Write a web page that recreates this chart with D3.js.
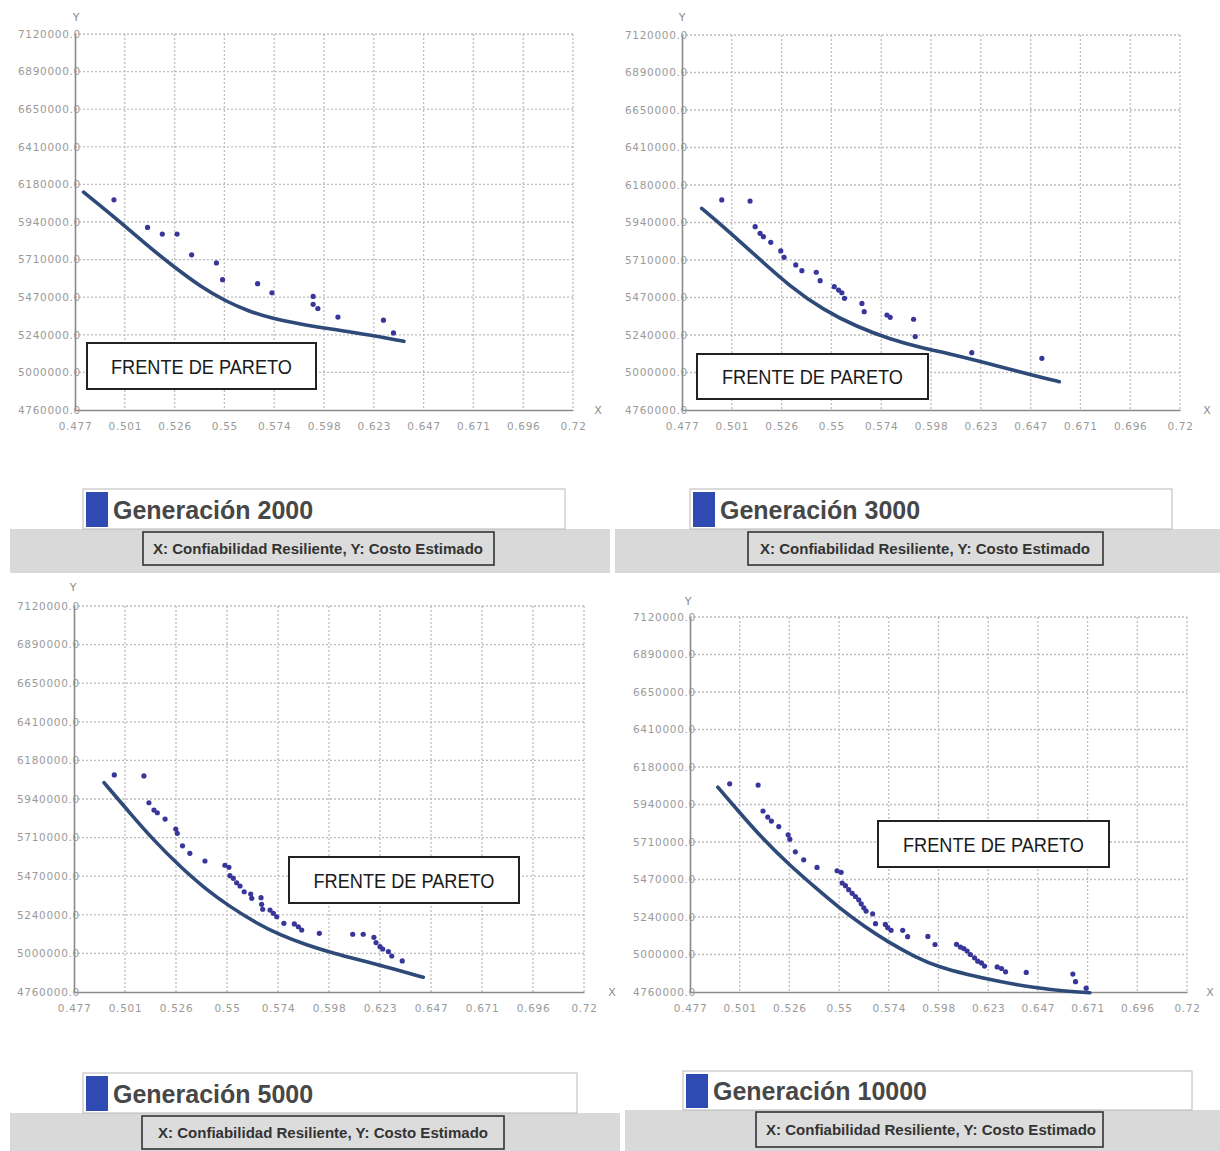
<!DOCTYPE html>
<html><head><meta charset="utf-8">
<script src="https://cdn.jsdelivr.net/npm/d3@7"></script>
<style>body{margin:0;background:#fff} svg{display:block}</style>
</head><body>
<svg id="chart" width="1220" height="1151"></svg>
<script>
// ---------- data ----------
const xTicks = [0.477,0.5013,0.5256,0.5499,0.5742,0.5985,0.6228,0.6471,0.6714,0.6957,0.72];
const xTickLabels = ["0.477","0.501","0.526","0.55","0.574","0.598","0.623","0.647","0.671","0.696","0.72"];
const yTicks = [4760000,4996000,5232000,5468000,5704000,5940000,6176000,6412000,6648000,6884000,7120000];
const yTickLabels = ["4760000.0","5000000.0","5240000.0","5470000.0","5710000.0","5940000.0","6180000.0","6410000.0","6650000.0","6890000.0","7120000.0"];
const generationTitles = ["Generación 2000","Generación 3000","Generación 5000","Generación 10000"];
const axisCaption = "X: Confiabilidad Resiliente, Y: Costo Estimado";
const frontLabel = "FRENTE DE PARETO";

const points2000 = [[0.4960,6079000],[0.5124,5906000],[0.5196,5864000],[0.5268,5864000],[0.5339,5734000],[0.5460,5683000],[0.5490,5578000],[0.5661,5553000],[0.5731,5496000],[0.5932,5473000],[0.5932,5423000],[0.5955,5397000],[0.6053,5343000],[0.6275,5324000],[0.6324,5244000]];
const curve2000 = [[0.4812,6127000],[0.4973,5959000],[0.5124,5791000],[0.5257,5654000],[0.5390,5528000],[0.5504,5444000],[0.5617,5380000],[0.5731,5334000],[0.5883,5296000],[0.6034,5265000],[0.6205,5233000],[0.6375,5191000]];

const points3000 = [[0.4964,6082000],[0.5102,6075000],[0.5127,5914000],[0.5151,5872000],[0.5167,5851000],[0.5203,5815000],[0.5252,5761000],[0.5268,5721000],[0.5325,5673000],[0.5355,5637000],[0.5425,5627000],[0.5444,5574000],[0.5513,5536000],[0.5534,5515000],[0.5550,5498000],[0.5563,5463000],[0.5648,5431000],[0.5659,5379000],[0.5770,5358000],[0.5786,5343000],[0.5900,5331000],[0.5908,5222000],[0.6184,5121000],[0.6526,5085000]];
const curve3000 = [[0.4866,6029000],[0.4972,5914000],[0.5135,5725000],[0.5298,5536000],[0.5460,5390000],[0.5623,5284000],[0.5786,5205000],[0.5949,5148000],[0.6079,5113000],[0.6317,5035000],[0.6507,4970000],[0.6611,4938000]];

const points5000 = [[0.4962,6087000],[0.5103,6081000],[0.5127,5917000],[0.5151,5872000],[0.5167,5856000],[0.5204,5817000],[0.5255,5756000],[0.5262,5730000],[0.5287,5654000],[0.5322,5608000],[0.5394,5561000],[0.5489,5535000],[0.5508,5522000],[0.5513,5471000],[0.5529,5455000],[0.5545,5428000],[0.5561,5408000],[0.5581,5373000],[0.5612,5359000],[0.5617,5333000],[0.5661,5337000],[0.5664,5296000],[0.5669,5266000],[0.5704,5261000],[0.5720,5241000],[0.5736,5220000],[0.5770,5180000],[0.5820,5176000],[0.5839,5159000],[0.5855,5139000],[0.5939,5119000],[0.6098,5113000],[0.6148,5113000],[0.6199,5094000],[0.6209,5062000],[0.6228,5037000],[0.6241,5023000],[0.6268,5007000],[0.6284,4980000],[0.6334,4950000]];
const curve5000 = [[0.4913,6040000],[0.5037,5853000],[0.5148,5690000],[0.5275,5527000],[0.5402,5384000],[0.5513,5282000],[0.5640,5180000],[0.5751,5109000],[0.5878,5047000],[0.6010,4995000],[0.6164,4946000],[0.6323,4891000],[0.6434,4850000]];

const points10000 = [[0.4964,6070000],[0.5103,6062000],[0.5127,5899000],[0.5150,5861000],[0.5168,5836000],[0.5204,5801000],[0.5250,5749000],[0.5258,5722000],[0.5285,5642000],[0.5326,5592000],[0.5391,5544000],[0.5489,5523000],[0.5509,5513000],[0.5514,5446000],[0.5530,5429000],[0.5546,5404000],[0.5563,5381000],[0.5579,5361000],[0.5595,5340000],[0.5607,5315000],[0.5620,5290000],[0.5631,5269000],[0.5663,5252000],[0.5677,5190000],[0.5725,5185000],[0.5737,5165000],[0.5753,5148000],[0.5810,5148000],[0.5834,5108000],[0.5933,5110000],[0.5968,5059000],[0.6073,5060000],[0.6092,5043000],[0.6109,5033000],[0.6125,5018000],[0.6141,4996000],[0.6161,4975000],[0.6177,4954000],[0.6195,4943000],[0.6210,4923000],[0.6272,4918000],[0.6293,4908000],[0.6313,4887000],[0.6414,4883000],[0.6642,4873000],[0.6655,4825000],[0.6707,4784000]];
const curve10000 = [[0.4906,6049000],[0.5006,5899000],[0.5120,5732000],[0.5251,5565000],[0.5381,5419000],[0.5495,5294000],[0.5626,5168000],[0.5740,5074000],[0.5871,4980000],[0.5990,4915000],[0.6123,4871000],[0.6286,4825000],[0.6450,4787000],[0.6613,4764000],[0.6725,4755000]];

const seriesPoints = [points2000, points3000, points5000, points10000];
const seriesCurves = [curve2000, curve3000, curve5000, curve10000];

// ---------- layout (positions only) ----------
const layout = [
  {left:75,right:573,top:34,bottom:410, yLab:[76,21], xLab:[598,414], front:[87,343,229,46],
   lbox:[83,489,482,40], band:[10,529,600,44], cap:[143,532,351,33], titleX:113, titleY:519, capX:318},
  {left:682,right:1180,top:35,bottom:410, yLab:[682,21], xLab:[1207,414], front:[697,354,231,45],
   lbox:[690,489,482,40], band:[615,529,605,44], cap:[748,532,355,33], titleX:720, titleY:519, capX:925},
  {left:74,right:584,top:606,bottom:992, yLab:[73,591], xLab:[612,996], front:[289,857,230,46],
   lbox:[83,1073,494,40], band:[10,1113,610,38], cap:[142,1116,362,33], titleX:113, titleY:1103, capX:323},
  {left:690,right:1187,top:617,bottom:992, yLab:[688,605], xLab:[1210,996], front:[878,821,231,46],
   lbox:[683,1071,509,39], band:[625,1110,595,41], cap:[756,1112,347,35], titleX:713, titleY:1100, capX:931}
];

const svg = d3.select("#chart");
const tickColor = "#9a9a9a";
const tickFont = "DejaVu Sans, sans-serif";

layout.forEach((L, i) => {
  const g = svg.append("g");
  const x = d3.scaleLinear().domain([0.477, 0.72]).range([L.left, L.right]);
  const y = d3.scaleLinear().domain([4760000, 7120000]).range([L.bottom, L.top]);

  // grid
  g.append("g").selectAll("line").data(xTicks.slice(1)).join("line")
    .attr("x1", d => x(d)).attr("x2", d => x(d))
    .attr("y1", L.top).attr("y2", L.bottom)
    .attr("stroke", "#bdbdbd").attr("stroke-width", 1.3).attr("stroke-dasharray", "2,2");
  g.append("g").selectAll("line").data(yTicks.slice(1)).join("line")
    .attr("x1", L.left).attr("x2", L.right)
    .attr("y1", d => y(d)).attr("y2", d => y(d))
    .attr("stroke", "#bdbdbd").attr("stroke-width", 1.3).attr("stroke-dasharray", "2,2");

  // axes
  const xa = g.append("g").attr("transform", `translate(0,${L.bottom})`)
    .call(d3.axisBottom(x).tickValues(xTicks).tickFormat((d, k) => xTickLabels[k]).tickSize(0).tickPadding(13));
  const ya = g.append("g").attr("transform", `translate(${L.left},0)`)
    .call(d3.axisLeft(y).tickValues(yTicks).tickFormat((d, k) => yTickLabels[k]).tickSize(0).tickPadding(-6));
  [xa, ya].forEach(a => {
    a.select(".domain").attr("stroke", "#8a8a8a").attr("stroke-width", 1.6);
    a.selectAll("text").attr("fill", tickColor).attr("font-family", tickFont)
      .attr("font-size", 10.5).attr("letter-spacing", "0.7px");
  });
  ya.select(".domain").raise();

  g.append("text").attr("x", L.yLab[0]).attr("y", L.yLab[1]).attr("text-anchor", "middle")
    .attr("fill", "#8a8a8a").attr("font-family", tickFont).attr("font-size", 11).text("Y");
  g.append("text").attr("x", L.xLab[0]).attr("y", L.xLab[1]).attr("text-anchor", "middle")
    .attr("fill", "#8a8a8a").attr("font-family", tickFont).attr("font-size", 11).text("X");

  // Pareto front curve
  const line = d3.line().x(d => x(d[0])).y(d => y(d[1])).curve(d3.curveBasis);
  g.append("path").datum(seriesCurves[i]).attr("d", line)
    .attr("fill", "none").attr("stroke", "#2d4a78").attr("stroke-width", 3.6).attr("stroke-linecap", "round");

  // solutions
  g.append("g").selectAll("circle").data(seriesPoints[i]).join("circle")
    .attr("cx", d => x(d[0])).attr("cy", d => y(d[1])).attr("r", 2.6)
    .attr("fill", "#38369a");

  // FRENTE DE PARETO box
  const f = L.front;
  g.append("rect").attr("x", f[0]).attr("y", f[1]).attr("width", f[2]).attr("height", f[3])
    .attr("fill", "#fff").attr("stroke", "#222").attr("stroke-width", 2);
  g.append("text").attr("x", f[0] + f[2] / 2).attr("y", f[1] + f[3] / 2 + 7.5)
    .attr("text-anchor", "middle").attr("font-family", "Liberation Sans, Arial, sans-serif")
    .attr("font-size", 21).attr("fill", "#1a1a1a")
    .attr("textLength", 181).attr("lengthAdjust", "spacingAndGlyphs").text(frontLabel);

  // legend
  const b = L.band;
  g.append("rect").attr("x", b[0]).attr("y", b[1]).attr("width", b[2]).attr("height", b[3]).attr("fill", "#d9d9d9");
  const lb = L.lbox;
  g.append("rect").attr("x", lb[0]).attr("y", lb[1]).attr("width", lb[2]).attr("height", lb[3])
    .attr("fill", "#fff").attr("stroke", "#b8b8b8").attr("stroke-width", 1);
  g.append("rect").attr("x", lb[0] + 3).attr("y", lb[1] + 3).attr("width", 22).attr("height", lb[3] - 5)
    .attr("fill", "#2f4bb3");
  g.append("text").attr("x", L.titleX).attr("y", L.titleY)
    .attr("font-family", "Liberation Sans, Arial, sans-serif").attr("font-weight", "bold")
    .attr("font-size", 25).attr("fill", "#474747").text(generationTitles[i]);
  const c = L.cap;
  g.append("rect").attr("x", c[0]).attr("y", c[1]).attr("width", c[2]).attr("height", c[3])
    .attr("fill", "#dcdcdc").attr("stroke", "#333").attr("stroke-width", 1.6);
  g.append("text").attr("x", L.capX).attr("y", c[1] + c[3] / 2 + 5)
    .attr("text-anchor", "middle").attr("font-family", "Liberation Sans, Arial, sans-serif")
    .attr("font-weight", "bold").attr("font-size", 14.5).attr("fill", "#333")
    .attr("textLength", 330).attr("lengthAdjust", "spacingAndGlyphs").text(axisCaption);
});
</script>
</body></html>
